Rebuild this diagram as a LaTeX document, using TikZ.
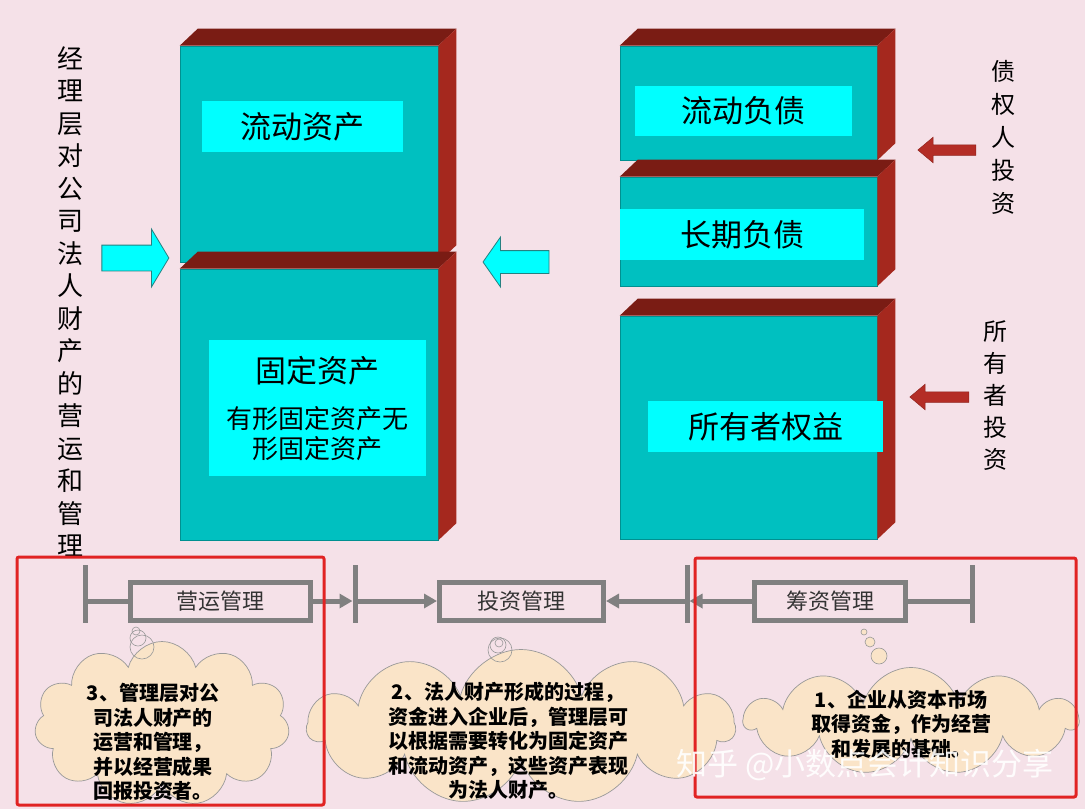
\documentclass[tikz,border=0pt]{standalone}
\usepackage{fontspec}
\setmainfont{Noto Sans CJK SC}
\usetikzlibrary{positioning, shapes.arrows, shapes.symbols, arrows.meta}

\definecolor{bgpink}{RGB}{245,225,232}
\definecolor{slabfront}{RGB}{0,192,192}
\definecolor{slabtop}{RGB}{122,28,20}
\definecolor{slabside}{RGB}{165,40,30}
\definecolor{tagcyan}{RGB}{0,255,255}
\definecolor{lanegray}{RGB}{128,128,128}
\definecolor{cloudfill}{RGB}{250,228,200}
\definecolor{framered}{RGB}{225,35,35}
\definecolor{investred}{RGB}{180,45,38}

% top and side faces of a box node
\newcommand\slab[1]{%
  \fill[slabtop] (#1.north west) -- ++(18,-17) -- ([shift={(18,-17)}]#1.north east) -- (#1.north east) -- cycle;
  \fill[slabside] (#1.north east) -- ++(18,-17) -- ([shift={(18,-17)}]#1.south east) -- (#1.south east) -- cycle;
}

\tikzset{
  slabbox/.style={fill=slabfront, draw=slabfront!75!black, line width=0.6pt, inner sep=0pt},
  tag/.style={fill=tagcyan, inner sep=0pt, font=\fontsize{31}{36}\selectfont},
  vtext/.style={align=center, inner sep=0pt},
  cyanarrow/.style={single arrow, fill=tagcyan, draw=teal!70!gray, line width=0.8pt, inner xsep=0pt},
  redarrow/.style={single arrow, fill=investred, draw=investred!80!black, line width=0.5pt, inner xsep=0pt,
    shape border rotate=180},
  lanebox/.style={draw=lanegray, line width=5pt, inner sep=0pt, font=\fontsize{22}{26}\selectfont, text=black!80},
  lane/.style={draw=lanegray, line width=5pt},
  tick/.style={draw=lanegray, line width=5pt},
  tip/.style={-{Triangle[length=13pt,width=14pt]}},
  bubble/.style={cloud, cloud puffs=11, cloud ignores aspect, fill=cloudfill, draw=gray!80, line width=0.7pt},
  puff/.style={circle, draw=gray!80, line width=0.6pt, inner sep=0pt},
  bubtext/.style={align=center, inner sep=0pt, font=\bfseries\fontsize{20}{24.5}\selectfont},
}

\begin{document}
\begin{tikzpicture}[x=1pt, y=-1pt]
  \fill[bgpink] (0,0) rectangle (1085,809);
  \useasboundingbox (0,0) rectangle (1085,809);

  % assets
  \node[slabbox, minimum width=258pt, minimum height=216pt] (curasset) at (309,154) {};
  \slab{curasset}
  \node[slabbox, minimum width=258pt, minimum height=271pt] (fixasset) at (309,404.5) {};
  \slab{fixasset}
  \node[tag, minimum width=201pt, minimum height=51pt] (curtag) at (302.5,126.5) {流动资产};
  \node[tag, align=center, minimum width=217pt, minimum height=136pt, font=\fontsize{26}{30}\selectfont]
    (fixtag) at (317.5,408) {{\fontsize{31}{36}\selectfont 固定资产}\\[16pt]有形固定资产无\\形固定资产};

  % liabilities and equity
  \node[slabbox, minimum width=257pt, minimum height=114pt] (curdebt) at (748.5,103) {};
  \slab{curdebt}
  \node[slabbox, minimum width=257pt, minimum height=109pt] (longdebt) at (748.5,231.5) {};
  \slab{longdebt}
  \node[slabbox, minimum width=257pt, minimum height=223pt] (equity) at (748.5,427.5) {};
  \slab{equity}
  \node[tag, minimum width=217pt, minimum height=50pt] (curdebttag) at (743.5,111) {流动负债};
  \node[tag, minimum width=244pt, minimum height=51pt] (longdebttag) at (742,234.5) {长期负债};
  \node[tag, minimum width=235pt, minimum height=51pt] (equitytag) at (765.5,426.5) {所有者权益};

  % side texts and arrows
  \node[vtext, font=\fontsize{26}{32.5}\selectfont] (mgmt) at (70,301.5)
    {经\\理\\层\\对\\公\\司\\法\\人\\财\\产\\的\\营\\运\\和\\管\\理};
  \node[vtext, font=\fontsize{24}{33}\selectfont] (creditor) at (1003,137.5) {债\\权\\人\\投\\资};
  \node[vtext, font=\fontsize{24}{32}\selectfont] (owner) at (995,396) {所\\有\\者\\投\\资};

  \node[cyanarrow, minimum height=67pt, inner ysep=12.5pt, single arrow head extend=16pt,
    single arrow tip angle=118] (inflow) at (131.5,258) {};
  \node[cyanarrow, minimum height=66pt, inner ysep=11pt, single arrow head extend=13.5pt,
    single arrow tip angle=110, shape border rotate=180] (fundflow) at (520,262) {};
  \node[redarrow, minimum height=58pt, inner ysep=5pt, single arrow head extend=7.5pt,
    single arrow tip angle=80] (debtin) at (950,150) {};
  \node[redarrow, minimum height=59pt, inner ysep=5pt, single arrow head extend=7.5pt,
    single arrow tip angle=80] (ownerin) at (942.5,397) {};

  % management line
  \coordinate (t1) at (85,601);
  \coordinate (t2) at (355,601);
  \coordinate (t3) at (687,601);
  \coordinate (t4) at (972,601);
  \foreach \t in {t1,t2,t3,t4}
    \draw[tick] (\t) ++(0,-36) -- ++(0,58);
  \node[lanebox, minimum width=180pt, minimum height=38pt] (opmgmt) at (220.5,601) {营运管理};
  \node[lanebox, minimum width=164pt, minimum height=38pt] (invmgmt) at (521.5,601) {投资管理};
  \node[lanebox, minimum width=151pt, minimum height=38pt] (finmgmt) at (830,601) {筹资管理};
  \draw[lane] (t1) -- (opmgmt);
  \draw[lane, tip, shorten >=2.5pt] (opmgmt) -- (t2);
  \draw[lane, tip] (t2) -- (invmgmt);
  \draw[lane, tip] (t3) -- (invmgmt);
  \draw[lane, tip, shorten >=2.5pt] (finmgmt) -- (t3);
  \draw[lane] (finmgmt) -- (t4);

  % thought clouds
  \node[bubble, minimum width=255pt, minimum height=165pt] (cloud3) at (162,724) {};
  \node[bubble, minimum width=427pt, minimum height=155pt] (cloud2) at (521,727) {};
  \node[bubble, minimum width=333pt, minimum height=107pt] (cloud1) at (911,721) {};
  \node[puff, minimum size=24pt] at (142,647) {};
  \node[puff, minimum size=16pt] at (138,638) {};
  \node[puff, minimum size=8pt] at (136,631) {};
  \node[puff, minimum size=24pt] at (500,650) {};
  \node[puff, minimum size=16pt] at (498,645) {};
  \node[puff, minimum size=8pt] at (499,643) {};
  \node[puff, fill=cloudfill, minimum size=16pt] at (879,656) {};
  \node[puff, fill=cloudfill, minimum size=10pt] at (870,642) {};
  \node[puff, fill=cloudfill, minimum size=6pt] at (864,632) {};
  \node[bubtext] (note3) at (153,742) {3、管理层对公\\司法人财产的\\运营和管理，\\并以经营成果\\回报投资者。};
  \node[bubtext] (note2) at (508,741) {2、法人财产形成的过程，\\资金进入企业后，管理层可\\以根据需要转化为固定资产\\和流动资产，这些资产表现\\为法人财产。};
  \node[bubtext] (note1) at (901,724) {1、企业从资本市场\\取得资金，作为经营\\和发展的基础。};

  % highlight frames
  \draw[framered, line width=3pt, rounded corners=2pt] (17,557) rectangle (324,805);
  \draw[framered, line width=3pt, rounded corners=2pt] (695,558) rectangle (1076,797);

  \node[text=white, opacity=0.9, font=\fontsize{31}{36}\selectfont] (wm) at (865,765) {知乎 @小数点会计知识分享};
\end{tikzpicture}
\end{document}
